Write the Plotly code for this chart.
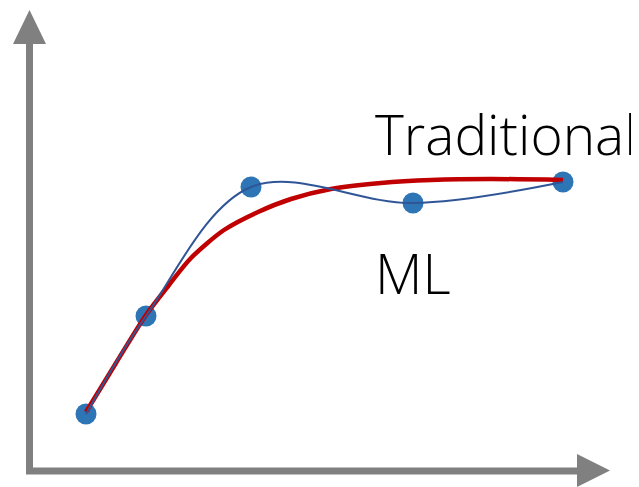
import plotly.graph_objects as go

pts_x = [85, 145, 250, 412, 562]
pts_y = [413, 315, 186, 202, 181]

# "Traditional" fitted curve
trad_x = [85, 115, 145, 168, 190, 223, 257, 290, 330, 380, 430, 490, 562]
trad_y = [411, 362, 314, 284, 257, 229, 211, 198, 188, 182, 179, 178, 179]

labels = ["Traditional", "ML"]
label_x = [372, 372]
label_y = [132, 271]

GRAY = "#808080"
OFF = 7  # page offset compensation

fig = go.Figure()
fig.add_trace(go.Scatter(x=pts_x, y=pts_y, mode="markers",
                         marker=dict(size=21, color="#2E75B6"), hoverinfo="skip"))
fig.add_trace(go.Scatter(x=trad_x, y=trad_y, mode="lines",
                         line=dict(color="#C00000", width=4.5, shape="spline", smoothing=0.8),
                         hoverinfo="skip"))
fig.add_trace(go.Scatter(x=pts_x, y=pts_y, mode="lines",
                         line=dict(color="#2F5597", width=2, shape="spline", smoothing=1.0),
                         hoverinfo="skip"))

for t, x, y in zip(labels, label_x, label_y):
    fig.add_annotation(x=x, y=y, text=t, showarrow=False, xanchor="left", yanchor="middle",
                       font=dict(family="Open Sans", size=55, color="#000000", weight=300))

# axes with arrows
fig.add_shape(type="line", x0=28.5, y0=470, x1=28.5, y1=40, line=dict(color=GRAY, width=7), layer="below")
fig.add_shape(type="path", path="M 12 43 L 28.5 9 L 45 43 Z", fillcolor=GRAY, line=dict(width=0), layer="below")
fig.add_shape(type="line", x0=25, y0=470, x1=580, y1=470, line=dict(color=GRAY, width=7), layer="below")
fig.add_shape(type="path", path="M 576 453 L 609 469.5 L 576 486 Z", fillcolor=GRAY, line=dict(width=0), layer="below")

fig.update_layout(
    width=639, height=487, margin=dict(l=0, r=0, t=0, b=0),
    paper_bgcolor="white", plot_bgcolor="white", showlegend=False,
    xaxis=dict(range=[OFF, 639 + OFF], visible=False, fixedrange=True),
    yaxis=dict(range=[487 + OFF, OFF], visible=False, fixedrange=True),
)
fig.write_html("out.html")
